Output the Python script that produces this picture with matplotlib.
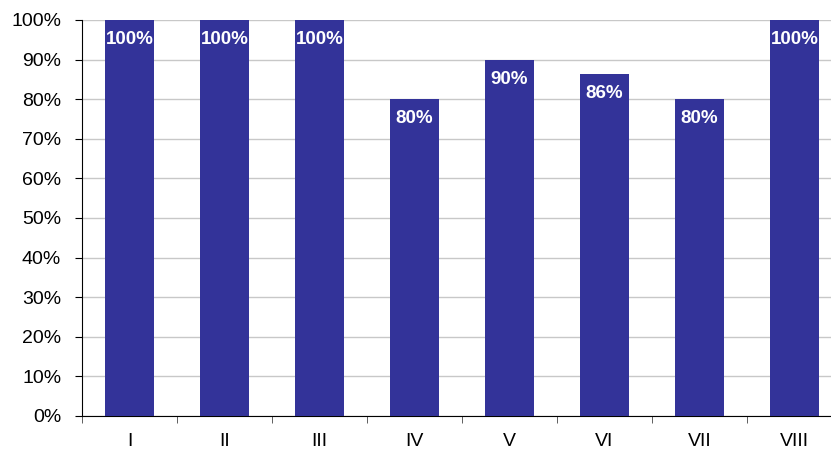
import matplotlib.pyplot as plt
import numpy as np

plt.rcParams['font.family'] = ['Liberation Sans', 'DejaVu Sans']

categories = ['I', 'II', 'III', 'IV', 'V', 'VI', 'VII', 'VIII']
values = [100, 100, 100, 80, 90, 86.4, 80, 100]
labels = ['100%', '100%', '100%', '80%', '90%', '86%', '80%', '100%']

fig = plt.figure(figsize=(8.31, 4.5), dpi=100)
# plot area runs a little past the right edge, as in the original
ax = fig.add_axes([82 / 831, 34 / 450, 760 / 831, 396 / 450])

x = np.arange(len(categories))
bars = ax.bar(x, values, width=0.52, color='#333399', zorder=3)

for b, lab in zip(bars, labels):
    ax.annotate(lab, (b.get_x() + b.get_width() / 2, b.get_height()),
                xytext=(0, -14), textcoords='offset points',
                ha='center', va='center', color='white',
                fontsize=13.5, fontweight='bold', zorder=4)

ax.set_xlim(-0.5, len(categories) - 0.5)
ax.set_ylim(0, 100)
ax.set_yticks(np.arange(0, 101, 10))
ax.set_yticklabels(['%d%%' % v for v in range(0, 101, 10)], fontsize=14)
ax.yaxis.grid(True, color='#c8c8c8', linewidth=1, zorder=0)

ax.set_xticks(x)
ax.set_xticklabels(categories, fontsize=14)
ax.tick_params(axis='x', length=0, pad=12)
ax.set_xticks(np.arange(-0.5, len(categories), 1), minor=True)
ax.tick_params(axis='x', which='minor', length=5, color='#444444')
ax.tick_params(axis='y', length=5, pad=10)

for s in ['top', 'right']:
    ax.spines[s].set_visible(False)
ax.spines['left'].set_color('black')
ax.spines['bottom'].set_color('black')

fig.savefig('out.png', dpi=100)
